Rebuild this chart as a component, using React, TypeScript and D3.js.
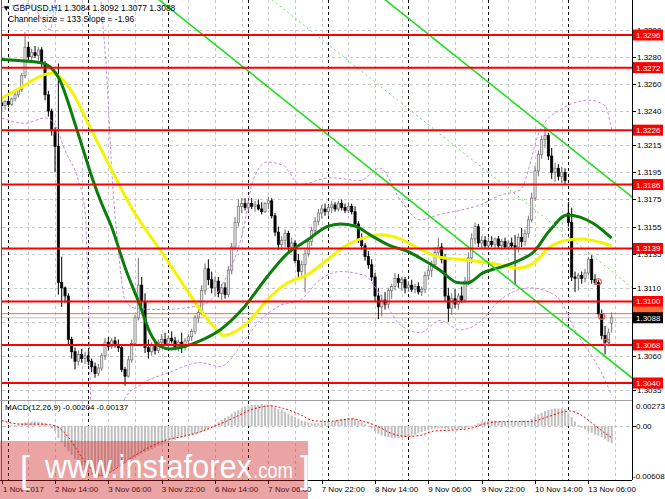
import React from "react";
import * as d3 from "d3";

const W = 665;
const H = 499;
const PIP = 0.0001;
const BASE = 1.3;

// OHLC in pips above 1.3000, one per H1 bar (bar 0 = 1 Nov 22:00)
const openPips = [
  246,244,247,245,249,252,256,266,287,280, 283,281,285,275,252,240,226,214,114,110,
  104,72,63,56,61,58,60,56,52,47, 51,60,70,67,71,68,66,50,45,57,
  69,88,112,100,66,63,68,64,70,72, 69,73,71,66,70,66,71,74,78,88,
  92,108,124,116,110,115,106,110,105,123, 140,158,170,172,169,172,170,171,168,166,
  172,174,163,151,142,145,150,140,143,130, 122,127,135,144,152,159,165,168,166,169,
  171,168,172,169,167,170,166,157,146,141, 133,127,118,104,96,101,98,108,111,117,
  114,116,110,112,109,111,107,109,119,123, 127,136,140,131,104,95,102,98,104,101,
  115,132,146,155,143,145,141,144,142,146, 141,144,140,143,141,140,147,144,150,160,
  176,196,208,219,222,207,195,198,192,195, 165,158,118,117,119,117,121,131,116,114,
  91,75,70,84,
];
const highPips = [
  250,248,249,250,254,257,268,298,291,286, 288,287,287,277,255,242,228,275,133,111,
  106,74,66,64,65,63,64,58,55,54, 62,73,74,73,74,72,68,52,60,72,
  90,132,118,106,72,70,71,72,76,77, 75,78,74,72,77,73,76,80,90,95,
  112,128,131,122,118,118,113,114,126,143, 162,175,176,176,175,176,174,175,173,173,
  177,176,165,155,148,153,152,147,145,135, 130,138,146,155,162,168,171,172,171,174,
  173,174,175,172,173,172,170,159,150,143, 137,131,121,110,105,107,110,113,121,120,
  118,118,115,116,113,114,111,122,126,130, 140,147,143,135,110,106,109,106,111,118,
  136,150,158,157,148,148,147,148,147,148, 146,147,145,147,149,150,154,153,163,180,
  200,211,222,228,224,213,202,201,199,198, 173,169,122,121,122,124,133,134,120,116,
  94,82,80,92,
];
const lowPips = [
  240,241,243,244,247,250,254,264,276,277, 279,277,272,248,236,222,195,105,96,99,
  68,58,50,53,55,54,53,48,44,45, 49,57,64,65,66,63,48,38,44,55,
  67,86,96,62,58,60,61,62,66,67, 66,69,64,63,62,64,68,71,76,84,
  90,105,112,106,104,103,101,102,103,120, 138,155,165,167,166,168,166,167,164,165,
  168,161,148,138,138,140,137,136,128,118, 119,107,133,141,149,156,161,163,163,165,
  166,166,167,165,165,164,155,143,138,130, 124,115,100,87,89,94,95,102,108,110,
  108,106,107,107,106,105,104,106,116,118, 124,132,128,100,85,90,95,94,99,99,
  112,128,142,140,139,139,138,140,139,139, 138,139,138,139,112,136,140,141,147,158,
  174,192,205,213,204,190,188,189,187,186, 155,115,107,108,113,114,119,113,112,89,
  72,61,67,77,
];
const closePips = [
  244,247,245,249,252,256,266,287,280,283, 281,285,275,252,240,226,214,114,110,104,
  72,63,56,61,58,60,56,52,47,51, 60,70,67,71,68,66,50,45,57,69,
  88,112,100,66,63,68,64,70,72,69, 73,71,66,70,66,71,74,78,88,92,
  108,124,116,110,115,106,110,105,123,140, 158,170,172,169,172,170,171,168,166,172,
  174,163,151,142,145,150,140,143,130,122, 127,135,144,152,159,165,168,166,169,171,
  168,172,169,167,170,166,157,146,141,133, 127,118,104,96,101,98,108,111,117,114,
  116,110,112,109,111,107,109,119,123,127, 136,140,131,104,95,102,98,104,101,115,
  132,146,155,143,145,141,144,142,146,141, 144,140,143,141,140,147,144,150,160,176,
  196,208,219,222,207,195,198,192,195,189, 158,118,117,119,117,121,131,116,114,91,
  75,70,77,88,
];

const levelPrices = [1.3296, 1.3272, 1.3226, 1.3186, 1.3139, 1.31, 1.3068, 1.304];
const priceTicks = [1.33, 1.328, 1.326, 1.324, 1.3215, 1.3195, 1.3175, 1.3155, 1.3135, 1.311, 1.3085, 1.306, 1.3035];
const hiddenTickLabels = [1.3085];
const timeLabelBars = [0, 16, 32, 48, 64, 80, 96, 112, 128, 144, 160, 176];
const timeLabels = ["1 Nov 2017", "2 Nov 14:00", "3 Nov 06:00", "3 Nov 22:00", "6 Nov 14:00", "7 Nov 06:00", "7 Nov 22:00", "8 Nov 14:00", "9 Nov 06:00", "9 Nov 22:00", "10 Nov 14:00", "13 Nov 06:00"];
const daySeparatorBars = [2, 26, 50, 74, 98, 122, 146, 170];
const gridBars = [8, 16, 24, 32, 40, 48, 56, 64, 72, 80, 88, 96, 104, 112, 120, 128, 136, 144, 152, 160, 168, 176, 184];

// moving averages (bar, pips)
const greenMaBars = [0, 12, 14.5, 17, 22.6, 27.4, 29.5, 33.1, 37, 41.5, 44.5, 47.5, 50.5, 55, 59.5, 65.5, 72.1, 79.6, 85.6, 91.6, 97.6, 101.5, 106, 110.5, 116.5, 121.6, 125.5, 131.5, 136.6, 139.6, 144.4, 149.5, 155.5, 159.4, 164.5, 169.6, 173.5, 177.4, 183];
const greenMaPips = [278, 275.5, 272.5, 265, 226, 189, 175, 154, 125, 97, 77, 67, 65, 67, 71, 79, 94, 118, 135, 145, 155, 157, 155.5, 149, 141, 137, 132, 123, 114, 113.5, 121, 125, 130.5, 136, 152.5, 163.5, 162, 157.5, 146.5];
const yellowMaBars = [0, 5.5, 12.4, 15.4, 17.5, 21.4, 26.5, 32.5, 39.4, 47.5, 53.5, 59.5, 64.6, 66.4, 69.4, 73.6, 79.6, 85.6, 91.6, 97.6, 103.6, 109.6, 113.5, 119.5, 125.5, 131.5, 139.6, 149.5, 154.6, 159.4, 164.5, 169.6, 174.4, 179.5, 183];
const yellowMaPips = [249.5, 257, 266.5, 268, 265, 253, 228, 199, 167, 138, 116, 94, 79, 75, 77, 84, 101, 113.5, 119.5, 130.5, 141.5, 147.5, 149, 146, 138.5, 132.5, 130.5, 127, 124.5, 128, 140, 145, 146, 143.5, 141];

// envelope bands (bar, pips)
const bandUpperBars = [0, 8.5, 14.5, 16, 17.5, 28, 30, 31.6, 33, 35, 37, 40, 47.5, 59.5, 67, 72.5, 75.4, 79.6, 84.4, 89.5, 98.5, 107.5, 113.5, 119.5, 125.5, 131.5, 137.5, 143.5, 149.5, 155.5, 161.5, 167.5, 176.5, 181, 183];
const bandUpperPips = [316, 319, 300, 322, 366, 366, 314, 263, 197, 138, 101, 95, 94, 97, 116, 153, 189, 202.5, 200, 186, 191, 189, 198, 175, 160, 164, 167, 171, 178, 182, 226, 241, 248, 244, 226];
const bandLowerBars = [0, 7, 13, 16, 19, 23, 25, 26, 27, 35.5, 37, 41.5, 50.5, 59.5, 65.5, 73, 77.5, 83.5, 89.5, 95.5, 101.5, 109, 113.5, 119.5, 125.5, 131.5, 137.5, 143.5, 149.5, 158.5, 163, 167.5, 172, 179.5, 183];
const bandLowerPips = [235, 231, 235, 230, 211, 189, 167, 101, 13, -2, 29, 38.5, 48, 55, 52, 72, 86, 97, 101, 116, 122, 119, 105, 83, 77, 86, 79, 85, 101, 110, 108, 101, 79, 49.5, 31];

// regression channel (bar, price)
const channelBars = [40, 190];
const channelLower = [1.3336, 1.3042];
const channelMiddle = [1.34025, 1.31085];
const channelUpper = [1.3469, 1.3175];

// MACD histogram per bar, in units of 0.0001
const macdHist = [
  -2,-1,0,1,1, 2,3,4,4,5,5,5,4, 3,0,-3,-6,
  -14,-19,-24,-29,-33,-38,-42,-46,-50,-53,-56,-58,
  -59,-58,-56,-54,-52, -49,-47,-45,-43,-41,-38,-36,
  -34,-32,-30,-29,-27,-25,-23,-22,-20,-19,
  -17,-16,-14,-13,-12,-11,-10,-9,-8,-7,
  -5,-3,-1,2,4, 7,9,11,14,16,18,20,22,
  23,24,24,24,25,24,24,23,21,
  19,18,16,14,12,10,8,6,5,4,3,
  3,3,4,4,5,5,6,7,8,8,9,
  9,8,6,4,2,0,
  -3,-6,-9,-11,-12,-13,-14,-14,-14,-13,
  -12,-12,-11,-10,-8,-7,-6,-5,-4,-3,-3,
  -3,-3,-4,-4,-4,-4,-4,-3,-2,-1,1,
  3,5,5,6,6,6,5,5,5,5,5,5,5,6,6,6,
  8,11,13,15,17,18,19,20,20,20,19,
  15,10,5,1,-2,-4,-6,-8,-10,-11,-13,-15,-18,-20,
];
const signalBars = [0, 6, 12, 16, 20, 23.5, 27, 30, 33, 39, 44.5, 49.5, 54.5, 59.5, 63.5, 69.5, 74.5, 78.5, 80.5, 84.5, 89.5, 93.5, 97.5, 105.5, 108.5, 112.5, 116.5, 121.5, 125.5, 129.5, 134.5, 140.5, 144.5, 150.5, 158.5, 163.5, 168.5, 170.5, 173.5, 177.5, 180.5, 183];
const signalVals = [6, 2, 2, 0, -13, -33, -50, -57, -52, -36, -24, -16, -12, -7, -1, 9, 18, 22, 23, 20, 13, 6, 5, 8, 5, 0, -8, -12, -11, -6, -5, -3, 2, 5, 5, 10, 16, 17, 13, 2, -7, -13.7];

const markerBars = [179, 180, 181.5];
const markerPrices = [1.31145, 1.3089, 1.307];

const FONT = "Liberation Sans, Arial, sans-serif";

export default function App() {
  const x = d3.scaleLinear().domain([0, 183]).range([1.7, 611.7]);
  const y = d3.scaleLinear().domain([1.304, 1.3296]).range([383, 35]);
  const ym = d3.scaleLinear().domain([-0.00608, 0.00273]).range([479, 402]);
  const p = (v: number) => BASE + v * PIP;

  const curve = d3
    .line<[number, number]>()
    .x((d) => x(d[0]))
    .y((d) => y(d[1]))
    .curve(d3.curveMonotoneX);
  const zip = (a: number[], b: number[], f: (v: number) => number) =>
    a.map((v, i) => [v, f(b[i])] as [number, number]);

  const green = curve(zip(greenMaBars, greenMaPips, p)) || "";
  const yellow = curve(zip(yellowMaBars, yellowMaPips, p)) || "";
  const bandU = curve(zip(bandUpperBars, bandUpperPips, p)) || "";
  const bandL = curve(zip(bandLowerBars, bandLowerPips, p)) || "";

  const sigLine =
    d3
      .line<[number, number]>()
      .x((d) => x(d[0]))
      .y((d) => ym(d[1] * PIP))
      .curve(d3.curveMonotoneX)(zip(signalBars, signalVals, (v) => v)) || "";

  const plotL = 2;
  const plotR = 632;
  const mainB = 400;
  const macdT = 401;
  const macdB = 480;

  const bw = 2.2;

  return (
    <svg
      width={W}
      height={H}
      style={{ position: "absolute", left: 0, top: 0, background: "#fff" }}
      fontFamily={FONT}
    >
      <defs>
        <clipPath id="mainClip">
          <rect x={plotL} y={0} width={plotR - plotL} height={mainB} />
        </clipPath>
        <clipPath id="macdClip">
          <rect x={plotL} y={macdT} width={plotR - plotL} height={macdB - macdT} />
        </clipPath>
      </defs>
      <rect x={0} y={0} width={W} height={H} fill="#fff" />

      {/* grid main */}
      <g clipPath="url(#mainClip)">
        {priceTicks.map((t, i) => (
          <line key={"hg" + i} x1={plotL} x2={plotR} y1={Math.round(y(t)) + 0.5} y2={Math.round(y(t)) + 0.5} stroke="#c8c8c8" strokeDasharray="3,3" />
        ))}
        {gridBars.map((b, i) => (
          <line key={"vg" + i} x1={Math.round(x(b)) + 0.5} x2={Math.round(x(b)) + 0.5} y1={0} y2={mainB} stroke="#c8c8c8" strokeDasharray="3,3" />
        ))}
        {daySeparatorBars.map((b, i) => (
          <line key={"ds" + i} x1={Math.round(x(b)) + 0.5} x2={Math.round(x(b)) + 0.5} y1={0} y2={mainB} stroke="#000" strokeDasharray="3,3" />
        ))}
      </g>
      {/* grid macd */}
      <g clipPath="url(#macdClip)">
        <line x1={plotL} x2={plotR} y1={Math.round(ym(0)) + 0.5} y2={Math.round(ym(0)) + 0.5} stroke="#c8c8c8" strokeDasharray="3,3" />
        {gridBars.map((b, i) => (
          <line key={"mvg" + i} x1={Math.round(x(b)) + 0.5} x2={Math.round(x(b)) + 0.5} y1={macdT} y2={macdB} stroke="#c8c8c8" strokeDasharray="3,3" />
        ))}
        {daySeparatorBars.map((b, i) => (
          <line key={"mds" + i} x1={Math.round(x(b)) + 0.5} x2={Math.round(x(b)) + 0.5} y1={macdT} y2={macdB} stroke="#000" strokeDasharray="3,3" />
        ))}
      </g>

      <g clipPath="url(#mainClip)">
        {/* current price lines */}
        <line x1={plotL} x2={plotR} y1={y(1.3088)} y2={y(1.3088)} stroke="#c0c0c0" strokeWidth={1} />
        <line x1={plotL} x2={plotR} y1={y(1.3091)} y2={y(1.3091)} stroke="#ff6a3a" strokeWidth={1} />

        {/* candles */}
        {openPips.map((o, i) => {
          const O = p(o), Hh = p(highPips[i]), L = p(lowPips[i]), C = p(closePips[i]);
          const bull = C >= O;
          const cx = x(i);
          const top = y(Math.max(O, C));
          const bot = y(Math.min(O, C));
          return (
            <g key={"c" + i}>
              <line x1={cx} x2={cx} y1={y(Hh)} y2={y(L)} stroke={bull ? "#707070" : "#000"} strokeWidth={1} />
              <rect x={cx - bw / 2} y={top} width={bw} height={Math.max(1, bot - top)} fill={bull ? "#e6e6e6" : "#000"} stroke={bull ? "#707070" : "#000"} strokeWidth={0.7} />
            </g>
          );
        })}

        {/* bands */}
        <path d={bandU} fill="none" stroke="#c78ae6" strokeWidth={1} strokeDasharray="3,2" />
        <path d={bandL} fill="none" stroke="#c78ae6" strokeWidth={1} strokeDasharray="3,2" />

        {/* moving averages */}
        <path d={yellow} fill="none" stroke="#f4f400" strokeWidth={3} />
        <path d={green} fill="none" stroke="#0a7d0a" strokeWidth={3} />

        {/* channel */}
        <line x1={x(channelBars[0])} x2={x(channelBars[1])} y1={y(channelLower[0])} y2={y(channelLower[1])} stroke="#22dd22" strokeWidth={1.6} />
        <line x1={x(channelBars[0])} x2={x(channelBars[1])} y1={y(channelUpper[0])} y2={y(channelUpper[1])} stroke="#22dd22" strokeWidth={1.6} />
        <line x1={x(channelBars[0])} x2={x(channelBars[1])} y1={y(channelMiddle[0])} y2={y(channelMiddle[1])} stroke="#66dd66" strokeWidth={1} strokeDasharray="2,3" />

        {/* levels */}
        {levelPrices.map((l, i) => (
          <line key={"lv" + i} x1={plotL} x2={plotR} y1={y(l)} y2={y(l)} stroke="#ff0000" strokeWidth={2} />
        ))}

        {/* markers */}
        {markerBars.map((b, i) => (
          <circle key={"mk" + i} cx={x(b)} cy={y(markerPrices[i])} r={3} fill="none" stroke="#e85050" strokeWidth={1.2} />
        ))}
      </g>

      {/* MACD */}
      <g clipPath="url(#macdClip)">
        {macdHist.map((v, i) => {
          const y0 = ym(0);
          const y1 = ym(v * PIP);
          return <rect key={"mh" + i} x={x(i) - 1} y={Math.min(y0, y1)} width={2} height={Math.max(0.5, Math.abs(y1 - y0))} fill="#c0c0c0" />;
        })}
        <path d={sigLine} fill="none" stroke="#ff0000" strokeWidth={1} strokeDasharray="2,2" />
      </g>

      {/* frames */}
      <line x1={1.5} x2={1.5} y1={0} y2={macdB} stroke="#606060" />
      <line x1={plotR + 0.5} x2={plotR + 0.5} y1={0} y2={macdB} stroke="#000" />
      <line x1={0} x2={plotR} y1={mainB + 0.5} y2={mainB + 0.5} stroke="#a0a0a0" />
      <line x1={0} x2={plotR} y1={macdB + 0.5} y2={macdB + 0.5} stroke="#000" />

      {/* price axis */}
      {priceTicks.map((t, i) => (
        <g key={"pt" + i}>
          <line x1={plotR} x2={plotR + 4} y1={Math.round(y(t)) + 0.5} y2={Math.round(y(t)) + 0.5} stroke="#000" />
          {hiddenTickLabels.includes(t) ? null : (
            <text x={plotR + 5} y={y(t) + 3} fontSize={8} fill="#000">{t.toFixed(4)}</text>
          )}
        </g>
      ))}
      {levelPrices.map((l, i) => (
        <g key={"ll" + i}>
          <rect x={plotR + 1} y={y(l) - 5.5} width={30} height={11} fill="#ff0000" />
          <text x={plotR + 4} y={y(l) + 3} fontSize={8} fill="#fff">{l.toFixed(4)}</text>
        </g>
      ))}
      <rect x={plotR + 1} y={y(1.3091) - 7} width={30} height={11} fill="#ff6a3a" />
      <rect x={plotR + 1} y={y(1.3088) - 5.5} width={30} height={11} fill="#000" />
      <text x={plotR + 4} y={y(1.3088) + 3} fontSize={8} fill="#fff">1.3088</text>

      {/* macd axis */}
      <text x={plotR + 4} y={409} fontSize={8} fill="#000">0.00273</text>
      <text x={plotR + 4} y={ym(0) + 3} fontSize={8} fill="#000">0.00</text>
      <line x1={plotR} x2={plotR + 4} y1={Math.round(ym(0)) + 0.5} y2={Math.round(ym(0)) + 0.5} stroke="#000" />
      <text x={plotR + 1} y={479} fontSize={8} fill="#000">-0.00608</text>
      <text x={5} y={410} fontSize={8} fill="#000">MACD(12,26,9) -0.00204 -0.00137</text>

      {/* time axis */}
      {timeLabelBars.map((b, i) => (
        <g key={"tl" + i}>
          <line x1={Math.round(x(b)) + 0.5} x2={Math.round(x(b)) + 0.5} y1={macdB} y2={macdB + 4} stroke="#000" />
          <text x={Math.max(3, x(b))} y={492} fontSize={8} fill="#000">{timeLabels[i]}</text>
        </g>
      ))}

      {/* title */}
      <text x={2} y={11} fontSize={8.5} fill="#000">▼ GBPUSD,H1  1.3084 1.3092 1.3077 1.3088</text>
      <text x={8} y={22} fontSize={8.5} fill="#000">Channel size = 133 Slope = -1.96</text>

      {/* watermark */}
      <rect x={0} y={441} width={308} height={58} fill="rgb(205,35,35)" fillOpacity={0.41} />
      <text x={20} y={482} fontSize={36} fill="#fff">[</text>
      <text x={45} y={478} fontSize={34} fill="#fff" textLength={207} lengthAdjust="spacingAndGlyphs">www.instaforex</text>
      <text x={253} y={478} fontSize={22} fill="#fff" textLength={40} lengthAdjust="spacingAndGlyphs">.com</text>
      <text x={300} y={482} fontSize={36} fill="#fff">]</text>
    </svg>
  );
}
